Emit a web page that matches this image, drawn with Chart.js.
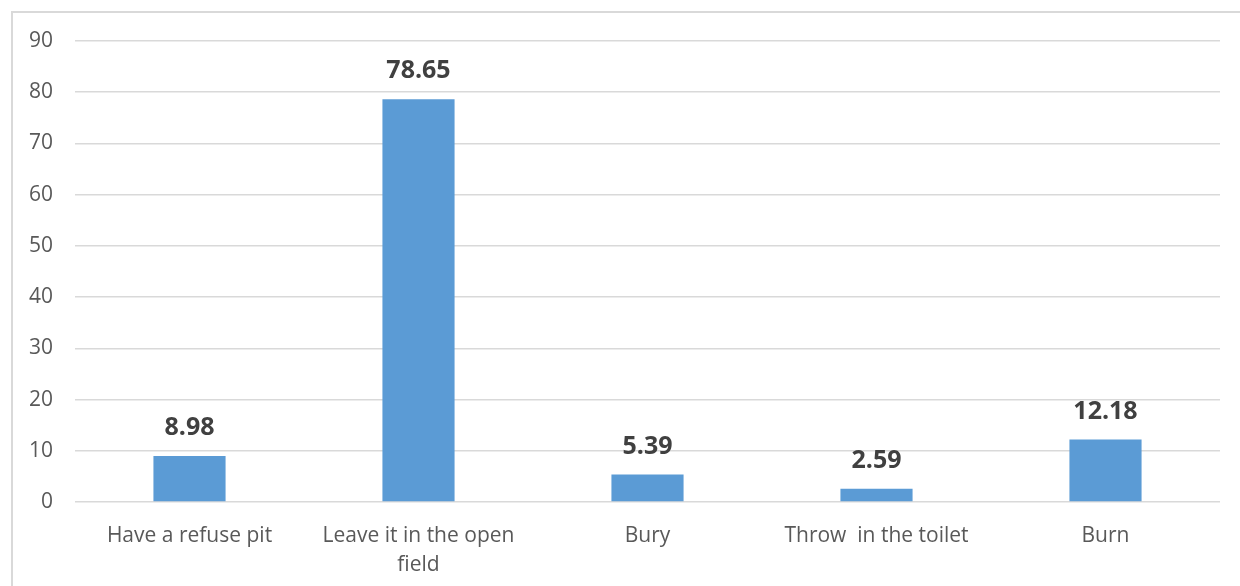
<!DOCTYPE html>
<html>
<head>
<meta charset="utf-8">
<script src="https://cdn.jsdelivr.net/npm/chart.js@4"></script>
<style>
    html, body { margin: 0; padding: 0; background: #fff; }
    #wrap { position: relative; width: 1240px; height: 586px; }
    #frame {
        position: absolute; left: 11px; top: 11px; right: 0; bottom: 0;
        border-left: 2px solid #d9d9d9; border-top: 2px solid #d9d9d9;
    }
    canvas { position: absolute; left: 0; top: 0; }
</style>
</head>
<body>
<div id="wrap">
    <div id="frame"></div>
    <canvas id="chart" width="1240" height="586"></canvas>
</div>
<script>
const categories = [
    'Have a refuse pit',
    ['Leave it in the open', 'field'],
    'Bury',
    'Throw  in the toilet',
    'Burn'
];
const values = [8.98, 78.65, 5.39, 2.59, 12.18];
const yTicks = [0, 10, 20, 30, 40, 50, 60, 70, 80, 90];

// 柱顶数值标签
const valueLabels = {
    id: 'valueLabels',
    afterDatasetsDraw(chart) {
        const ctx = chart.ctx;
        const meta = chart.getDatasetMeta(0);
        ctx.save();
        ctx.font = 'bold 25px "Open Sans"';
        ctx.fillStyle = '#404040';
        ctx.textAlign = 'center';
        ctx.textBaseline = 'middle';
        meta.data.forEach((bar, i) => {
            ctx.fillText(values[i].toFixed(2), bar.x, bar.y - 28);
        });
        ctx.restore();
    }
};

new Chart(document.getElementById('chart'), {
    type: 'bar',
    data: {
        labels: categories,
        datasets: [{
            data: values,
            backgroundColor: '#5b9bd5',
            barPercentage: 0.63,
            categoryPercentage: 0.5
        }]
    },
    options: {
        responsive: false,
        animation: false,
        layout: { padding: { top: 41, right: 20, bottom: 0, left: 0 } },
        plugins: {
            legend: { display: false },
            tooltip: { enabled: false }
        },
        scales: {
            x: {
                grid: { display: false },
                border: { display: false },
                ticks: {
                    color: '#595959',
                    font: { family: '"Open Sans"', size: 21, lineHeight: 1.38 },
                    padding: 12,
                    maxRotation: 0,
                    autoSkip: false
                },
                afterFit(scale) { scale.height = 84; }
            },
            y: {
                min: 0,
                max: 90,
                afterBuildTicks(scale) {
                    scale.ticks = yTicks.map(v => ({ value: v }));
                },
                grid: { color: '#d9d9d9', lineWidth: 1.5, drawTicks: false },
                border: { display: false },
                ticks: {
                    color: '#595959',
                    font: { family: '"Open Sans"', size: 21 },
                    padding: 22
                },
                afterFit(scale) { scale.width = 75; }
            }
        }
    },
    plugins: [valueLabels]
});
</script>
</body>
</html>
